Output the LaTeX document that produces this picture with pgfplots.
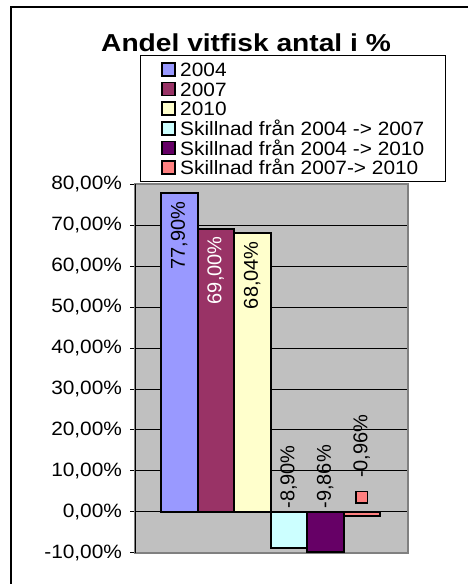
\documentclass[border=0pt]{standalone}
\usepackage{pgfplots}
\pgfplotsset{compat=1.18}
\usepackage{fontspec}
\setmainfont{Liberation Sans}[FakeStretch=1.08]
\newfontfamily\titlefont{Liberation Sans}[FakeStretch=1.15]
\newfontfamily\lblfont{Liberation Sans}
\definecolor{c1}{HTML}{9999FF}
\definecolor{c2}{HTML}{993366}
\definecolor{c3}{HTML}{FFFFCC}
\definecolor{c4}{HTML}{CCFFFF}
\definecolor{c5}{HTML}{660066}
\definecolor{c6}{HTML}{FF8080}
\definecolor{plotgray}{HTML}{C0C0C0}
\definecolor{axisgray}{HTML}{808080}
\pgfplotsset{
  mybar/.style={bar width=36.5, bar shift=0pt, draw=black, line width=2pt,
    legend image code/.code={\draw[##1,draw=black,line width=1.8pt] (0pt,-6.5pt) rectangle (13pt,6.5pt);}},
  poslbl/.style={every node near coord/.append style={font=\lblfont\fontsize{20}{24}\selectfont, inner sep=0pt, anchor=east, rotate=90, xshift=-#1}},
  neglbl/.style={every node near coord/.append style={font=\lblfont\fontsize{20}{24}\selectfont, inner sep=0pt, anchor=west, rotate=90, xshift=#1}},
}
\begin{document}
\begin{tikzpicture}[x=1pt,y=1pt]
\path[use as bounding box] (0,0) rectangle (468,584);
\fill[white] (0,0) rectangle (468,584);
\draw[line width=1.2pt] (11,-5) -- (11,577) -- (475,577);
\node[font=\titlefont\bfseries\fontsize{24.5}{29}\selectfont, anchor=base] at (246,532) {Andel vitfisk antal i \%};
\begin{axis}[
  at={(135pt,31.3pt)}, anchor=south west,
  scale only axis, width=273pt, height=368.4pt,
  xmin=0, xmax=273, ymin=-10, ymax=80,
  ybar,
  xtick=\empty,
  ytick={-10,0,10,20,30,40,50,60,70,80},
  yticklabels={{-10,00\%},{0,00\%},{10,00\%},{20,00\%},{30,00\%},{40,00\%},{50,00\%},{60,00\%},{70,00\%},{80,00\%}},
  yticklabel style={font=\fontsize{19.3}{22}\selectfont, xshift=-4.5pt},
  ymajorgrids, grid style={black, line width=0.8pt},
  axis background/.style={fill=plotgray},
  axis line style={draw=axisgray, line width=1.6pt},
  tick style={black, line width=0.8pt}, major tick length=5pt, tick align=outside, ytick pos=left,
  legend style={at={(0.0183,1.351)}, anchor=north west, draw=black, line width=0.9pt, fill=white,
    font=\fontsize{19.3}{19.7}\selectfont, inner xsep=21pt, inner ysep=4pt, row sep=0pt, column sep=4pt,
    cells={anchor=west}, nodes={inner sep=0pt, text height=17pt, text depth=2.7pt}},
]
\addplot[mybar, fill=c1, nodes near coords={77,90\%}, poslbl=8pt] coordinates {(44.25,77.90)};
\addplot[mybar, fill=c2, nodes near coords={\textcolor{white}{69,00\%}}, poslbl=6pt] coordinates {(80.75,69.00)};
\addplot[mybar, fill=c3, nodes near coords={68,04\%}, poslbl=7pt] coordinates {(117.25,68.04)};
\addplot[mybar, fill=c4, nodes near coords={-8,90\%}, neglbl=38.6pt] coordinates {(153.75,-8.90)};
\addplot[mybar, fill=c5, nodes near coords={-9,86\%}, neglbl=42.6pt] coordinates {(190.25,-9.86)};
\addplot[mybar, fill=c6, nodes near coords={\raisebox{0.7pt}{\setlength{\fboxsep}{0pt}\setlength{\fboxrule}{1.6pt}\fcolorbox{black}{c6}{\rule{0pt}{10pt}\hspace{10pt}}}\hspace{13pt}-0,96\%}, neglbl=10.6pt] coordinates {(226.75,-0.96)};
\draw[black, line width=1.2pt] (rel axis cs:0,0) -- (rel axis cs:0,1);
\legend{2004,2007,2010,Skillnad från 2004 -> 2007,Skillnad från 2004 -> 2010,Skillnad från 2007-> 2010}
\end{axis}
\end{tikzpicture}
\end{document}
